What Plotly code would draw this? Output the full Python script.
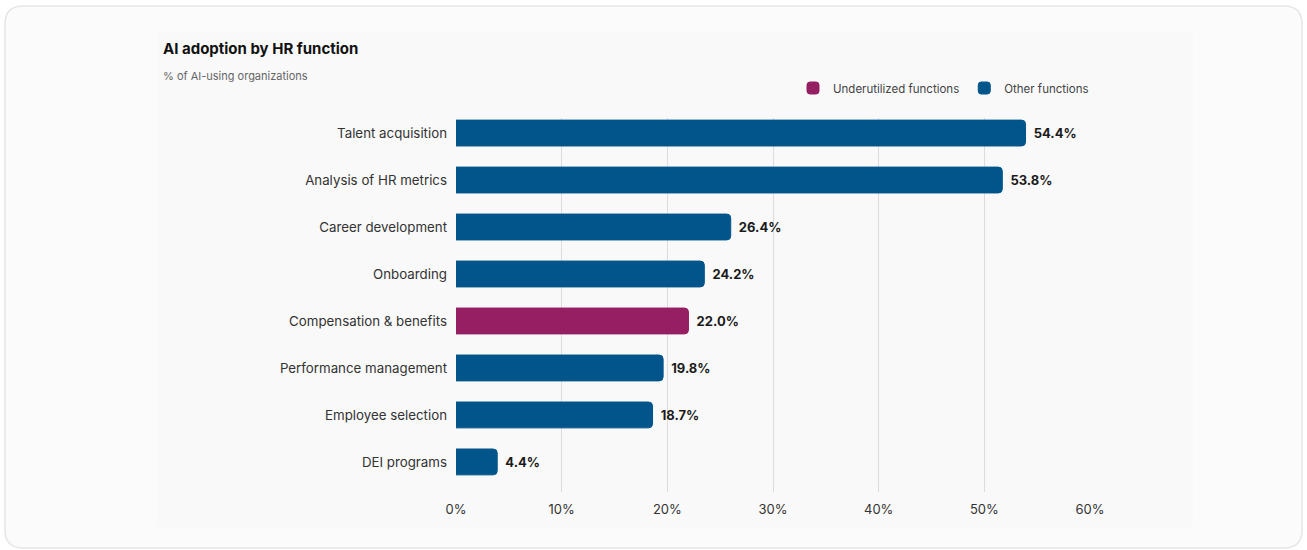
import plotly.graph_objects as go

W, H = 1307, 550

categories = ["Talent acquisition", "Analysis of HR metrics", "Career development", "Onboarding",
              "Compensation & benefits", "Performance management", "Employee selection", "DEI programs"]
# bar lengths as drawn in the picture
values = [53.9, 51.7, 26.0, 23.5, 22.0, 19.6, 18.6, 3.9]
# value labels as printed next to the bars
value_labels = ["54.4%", "53.8%", "26.4%", "24.2%", "22.0%", "19.8%", "18.7%", "4.4%"]
underutilized = ["Compensation & benefits"]
x_ticks = [0, 10, 20, 30, 40, 50, 60]
x_tick_labels = ["0%", "10%", "20%", "30%", "40%", "50%", "60%"]

BLUE = "#02558a"
MAGENTA = "#951f62"

def px_x(x):
    return x / W

def px_y(y):
    return 1 - y / H

rows = list(zip(categories, values, value_labels))
groups = [
    ("Underutilized functions", [r for r in rows if r[0] in underutilized], MAGENTA),
    ("Other functions", [r for r in rows if r[0] not in underutilized], BLUE),
]

fig = go.Figure()
for name, rs, col in groups:
    fig.add_trace(go.Bar(
        name=name, y=[r[0] for r in rs], x=[r[1] for r in rs], orientation="h",
        text=["\u00a0\u2009" + r[2] for r in rs],
        marker=dict(color=col, line=dict(color=col, width=1)),
        width=0.55,
        texttemplate="%{text}", textposition="outside", cliponaxis=False,
        textfont=dict(family="Inter", size=13, color="#1b1b1b", weight="bold"),
        hoverinfo="skip",
    ))

def rounded_rect(x0, y0, x1, y1, r):
    fx = lambda v: px_x(v)
    fy = lambda v: px_y(v)
    p = (f"M{fx(x0+r)},{fy(y0)} L{fx(x1-r)},{fy(y0)} Q{fx(x1)},{fy(y0)} {fx(x1)},{fy(y0+r)} "
         f"L{fx(x1)},{fy(y1-r)} Q{fx(x1)},{fy(y1)} {fx(x1-r)},{fy(y1)} "
         f"L{fx(x0+r)},{fy(y1)} Q{fx(x0)},{fy(y1)} {fx(x0)},{fy(y1-r)} "
         f"L{fx(x0)},{fy(y0+r)} Q{fx(x0)},{fy(y0)} {fx(x0+r)},{fy(y0)} Z")
    return p

shapes = [
    dict(type="path", xref="paper", yref="paper", path=rounded_rect(5, 6, 1302, 548, 18),
         fillcolor="#fbfbfb", line=dict(color="#e6e6ea", width=1.5), layer="below"),
    dict(type="rect", xref="paper", yref="paper", x0=px_x(157), x1=px_x(1193), y0=px_y(527), y1=px_y(31),
         fillcolor="#f9f9f9", line=dict(width=0), layer="below"),
]

fig.update_layout(
    width=W, height=H,
    margin=dict(l=0, r=0, t=0, b=0, autoexpand=False),
    paper_bgcolor="#ffffff", plot_bgcolor="rgba(0,0,0,0)",
    barmode="relative", barcornerradius=4,
    font=dict(family="Inter", color="#333333", size=13),
    shapes=shapes,
    xaxis=dict(domain=[px_x(456), px_x(1090)], range=[0, 60], tickvals=x_ticks, ticktext=x_tick_labels,
               showgrid=True, gridcolor="#dcdcdf", gridwidth=1, zeroline=False, showline=False,
               tickfont=dict(size=13, color="#333333"), ticklabelstandoff=8, fixedrange=True,
               automargin=False),
    yaxis=dict(domain=[px_y(492), px_y(118)], categoryorder="array", categoryarray=categories,
               range=[7.64, -0.32], showgrid=False, zeroline=False, showline=False,
               tickfont=dict(size=13.3, color="#333333"), ticklabelstandoff=8, fixedrange=True,
               automargin=False),
    legend=dict(orientation="h", x=px_x(1094), xanchor="right", y=px_y(88), yanchor="middle",
                font=dict(size=11.5, color="#444444"), bgcolor="rgba(0,0,0,0)", traceorder="normal",
                itemwidth=30),
    showlegend=True,
    annotations=[
        dict(text="<b>AI adoption by HR function</b>", xref="paper", yref="paper", x=px_x(161), y=px_y(48),
             xanchor="left", yanchor="middle", showarrow=False, font=dict(size=15, color="#111111")),
        dict(text="% of AI-using organizations", xref="paper", yref="paper", x=px_x(161), y=px_y(76),
             xanchor="left", yanchor="middle", showarrow=False, font=dict(size=11, color="#666666")),
    ],
)

fig.write_html("out.html", config={"displayModeBar": False},
               post_script="document.body.style.margin='0px';")
